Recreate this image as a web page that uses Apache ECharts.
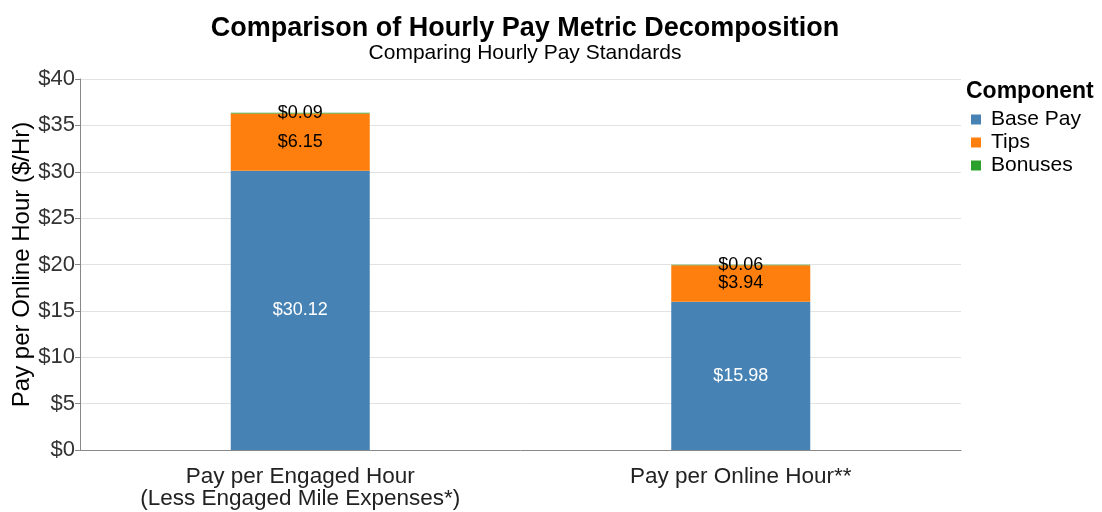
<!DOCTYPE html>
<html>
<head>
<meta charset="utf-8">
<script src="https://cdn.jsdelivr.net/npm/echarts@6/dist/echarts.min.js"></script>
<style>
  html, body { margin: 0; padding: 0; background: #fff; }
  #chart { width: 1102px; height: 512px; }
</style>
</head>
<body>
<div id="chart"></div>
<script>
  // data
  const categories = ['Pay per Engaged Hour\n(Less Engaged Mile Expenses*)', 'Pay per Online Hour**'];
  const basePay = [30.12, 15.98];
  const tips = [6.15, 3.94];
  const bonuses = [0.09, 0.06];
  const yTicks = [0, 5, 10, 15, 20, 25, 30, 35, 40];

  const font = '"Liberation Sans", Arial, Helvetica, sans-serif';
  const money = (v) => '$' + v.toFixed(2);

  const chart = echarts.init(document.getElementById('chart'), null, { renderer: 'canvas' });

  const segment = (name, data, color, labelColor) => ({
    name: name,
    type: 'bar',
    stack: 'pay',
    data: data,
    barWidth: 139,
    itemStyle: { color: color },
    label: {
      show: true,
      position: 'inside',
      color: labelColor,
      fontFamily: font,
      fontSize: 18,
      formatter: (p) => money(p.value)
    },
    emphasis: { disabled: true }
  });

  chart.setOption({
    animation: false,
    textStyle: { fontFamily: font },
    title: [
      {
        text: 'Comparison of Hourly Pay Metric Decomposition',
        subtext: 'Comparing Hourly Pay Standards',
        left: 520,
        textAlign: 'center',
        top: 10,
        itemGap: 1,
        textStyle: { fontFamily: font, fontSize: 27, fontWeight: 'bold', color: '#000' },
        subtextStyle: { fontFamily: font, fontSize: 21, color: '#000' }
      },
      {
        text: 'Component',
        left: 961,
        top: 75,
        textStyle: { fontFamily: font, fontSize: 23, fontWeight: 'bold', color: '#000' }
      }
    ],
    legend: {
      orient: 'vertical',
      left: 966,
      top: 104,
      icon: 'rect',
      itemWidth: 10,
      itemHeight: 10,
      itemGap: 2,
      textStyle: { fontFamily: font, fontSize: 21, color: '#000', padding: [0, 0, 0, 5] },
      data: ['Base Pay', 'Tips', 'Bonuses']
    },
    grid: { left: 80, right: 141, top: 79, bottom: 62, outerBoundsMode: 'none', containLabel: false },
    xAxis: {
      type: 'category',
      data: categories,
      axisLine: { lineStyle: { color: '#888' } },
      axisTick: { alignWithLabel: true, length: 5, lineStyle: { color: '#888' } },
      axisLabel: { fontFamily: font, fontSize: 22.5, color: '#222', margin: 16, lineHeight: 22 }
    },
    yAxis: {
      type: 'value',
      min: yTicks[0],
      max: yTicks[yTicks.length - 1],
      interval: 5,
      name: 'Pay per Online Hour ($/Hr)',
      nameLocation: 'middle',
      nameGap: 46,
      nameMoveOverlap: false,
      nameTextStyle: { fontFamily: font, fontSize: 24, color: '#000' },
      axisLine: { show: true, lineStyle: { color: '#888' } },
      axisTick: { show: true, length: 5, lineStyle: { color: '#888' } },
      axisLabel: { fontFamily: font, fontSize: 22, color: '#333', margin: 5, formatter: (v) => '$' + v },
      splitLine: { lineStyle: { color: '#e2e2e2' } }
    },
    series: [
      segment('Base Pay', basePay, '#4682b4', '#fff'),
      segment('Tips', tips, '#ff7f0e', '#000'),
      segment('Bonuses', bonuses, '#2ca02c', '#000')
    ]
  });
</script>
</body>
</html>
